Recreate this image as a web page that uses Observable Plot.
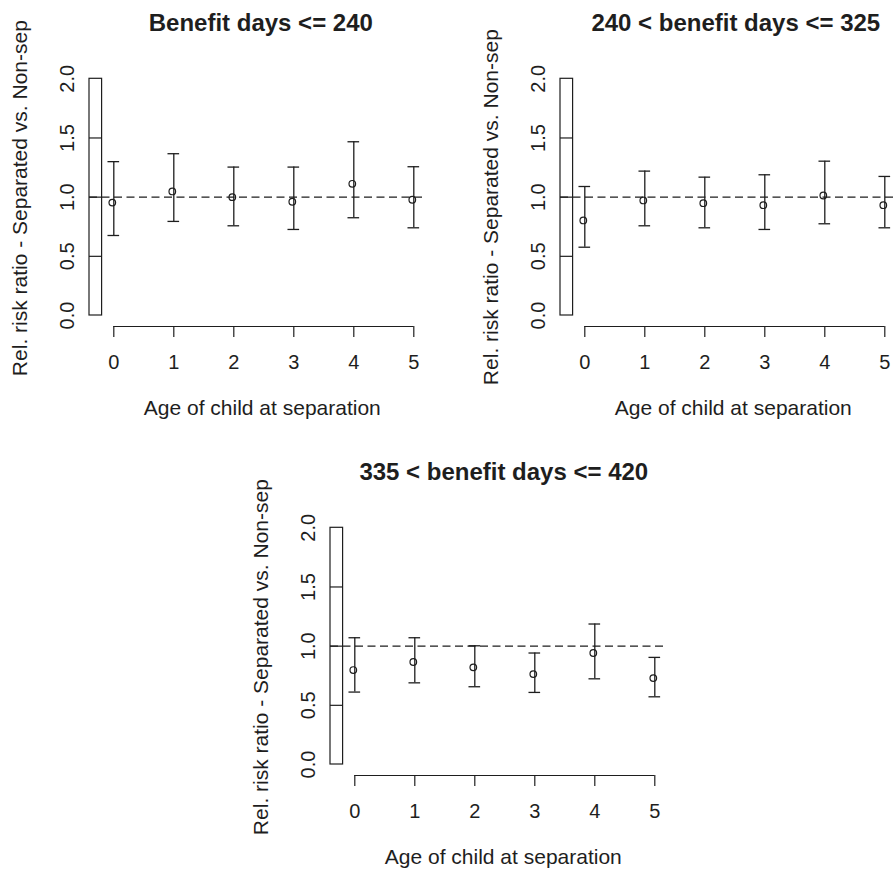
<!DOCTYPE html>
<html>
<head>
<meta charset="utf-8">
<script src="https://cdn.jsdelivr.net/npm/d3@7"></script>
<script src="https://cdn.jsdelivr.net/npm/@observablehq/plot@0.6"></script>
<style>
  html, body { margin: 0; padding: 0; background: #fff; overflow: hidden; }
  #chart { position: relative; width: 895px; height: 869px; overflow: hidden; }
  .panel { position: absolute; width: 430px; height: 430px; }
</style>
</head>
<body>
<div id="chart"></div>
<script>
// ---- data ----
const ages = [0, 1, 2, 3, 4, 5];
const xTicks = [0, 1, 2, 3, 4, 5];
const yTicks = [0, 0.5, 1.0, 1.5, 2.0];
const refValue = 1;

const titles = ["Benefit days <= 240", "240 < benefit days <= 325", "335 < benefit days <= 420"];
const xLabel = "Age of child at separation";
const yLabel = "Rel. risk ratio - Separated vs. Non-sep";

const rr240 = [0.954, 1.048, 1.000, 0.961, 1.113, 0.978];
const lo240 = [0.676, 0.795, 0.758, 0.727, 0.826, 0.741];
const hi240 = [1.300, 1.367, 1.254, 1.254, 1.468, 1.257];

const rr325 = [0.803, 0.972, 0.949, 0.932, 1.014, 0.932];
const lo325 = [0.577, 0.758, 0.741, 0.727, 0.775, 0.741];
const hi325 = [1.090, 1.220, 1.169, 1.189, 1.304, 1.175];

const rr420 = [0.798, 0.866, 0.821, 0.764, 0.942, 0.730];
const lo420 = [0.612, 0.690, 0.657, 0.609, 0.724, 0.572];
const hi420 = [1.071, 1.071, 1.003, 0.942, 1.187, 0.905];

// ---- layout / style ----
const font = "'Liberation Sans', Arial, Helvetica, sans-serif";
const ink = "#1e1e1e";
const boxX = [-0.405, -0.195];   // y-axis box, in x units
const plotX = [-0.405, 5.18];    // extent of plot region (dashed line)
const capHalf = 0.097;

const panels = [
  {rr: rr240, lo: lo240, hi: hi240, title: titles[0], left: 0,     top: 0,     ylabDy: 1,  titleDx: -3},
  {rr: rr325, lo: lo325, hi: hi325, title: titles[1], left: 470.7, top: 0,     ylabDy: 10, titleDx: 1},
  {rr: rr420, lo: lo420, hi: hi420, title: titles[2], left: 241.4, top: 448.7, ylabDy: 11, titleDx: -1}
];

const chart = document.getElementById("chart");

for (const p of panels) {
  const rows = ages.map((a, i) => ({age: a, rr: p.rr[i], lo: p.lo[i], hi: p.hi[i]}));
  const svg = Plot.plot({
    width: 430,
    height: 430,
    marginLeft: 113.3,
    marginRight: 16.7,
    marginTop: 78.3,
    marginBottom: 115,
    style: {fontFamily: font, color: ink, background: "white", overflow: "visible"},
    x: {domain: [0, 5]},
    y: {domain: [0, 2], axis: null},
    marks: [
      // y-axis box with inner ticks
      Plot.rect([0], {x1: boxX[0], x2: boxX[1], y1: yTicks[0], y2: yTicks[yTicks.length - 1], fill: "none", stroke: ink, strokeWidth: 1.2}),
      Plot.ruleY(yTicks.slice(1, -1), {x1: boxX[0], x2: boxX[1], stroke: ink, strokeWidth: 1.2}),
      Plot.text(yTicks, {y: d => d, text: d => d.toFixed(1), frameAnchor: "left", textAnchor: "middle", lineAnchor: "middle", dx: -46.3, rotate: -90, fontSize: 20, fill: ink}),
      // reference line
      Plot.ruleY([refValue], {x1: plotX[0], x2: plotX[1], stroke: ink, strokeWidth: 1.2, strokeDasharray: "8,4.5"}),
      // x axis
      Plot.ruleY([0], {x1: xTicks[0], x2: xTicks[xTicks.length - 1], dy: 11, stroke: ink, strokeWidth: 1.2}),
      Plot.axisX({ticks: xTicks, tickSize: 11, dy: 11, label: null, stroke: ink, strokeWidth: 1.2, tickFormat: () => ""}),
      Plot.text(xTicks, {x: d => d, text: d => String(d), frameAnchor: "bottom", textAnchor: "middle", lineAnchor: "middle", dy: 46.7, fontSize: 20, fill: ink}),
      // error bars
      Plot.ruleX(rows, {x: "age", y1: "lo", y2: "hi", stroke: ink, strokeWidth: 1.3}),
      Plot.ruleY(rows, {y: "lo", x1: d => d.age - capHalf, x2: d => d.age + capHalf, stroke: ink, strokeWidth: 1.3}),
      Plot.ruleY(rows, {y: "hi", x1: d => d.age - capHalf, x2: d => d.age + capHalf, stroke: ink, strokeWidth: 1.3}),
      Plot.dot(rows, {x: "age", y: "rr", r: 3.3, dx: -1.5, stroke: ink, fill: "none", strokeWidth: 1.2}),
      // labels
      Plot.text([p.title], {frameAnchor: "top", textAnchor: "middle", dy: -55, dx: p.titleDx, lineAnchor: "middle", fontSize: 24, fontWeight: "bold", fill: ink}),
      Plot.text([xLabel], {frameAnchor: "bottom", textAnchor: "middle", dy: 93, dx: -1.5, lineAnchor: "middle", fontSize: 21, fill: ink}),
      Plot.text([yLabel], {frameAnchor: "left", textAnchor: "middle", dx: -93.3, dy: p.ylabDy, rotate: -90, lineAnchor: "middle", fontSize: 21, fill: ink})
    ]
  });
  const div = document.createElement("div");
  div.className = "panel";
  div.style.left = p.left + "px";
  div.style.top = p.top + "px";
  div.appendChild(svg);
  chart.appendChild(div);
}
</script>
</body>
</html>
